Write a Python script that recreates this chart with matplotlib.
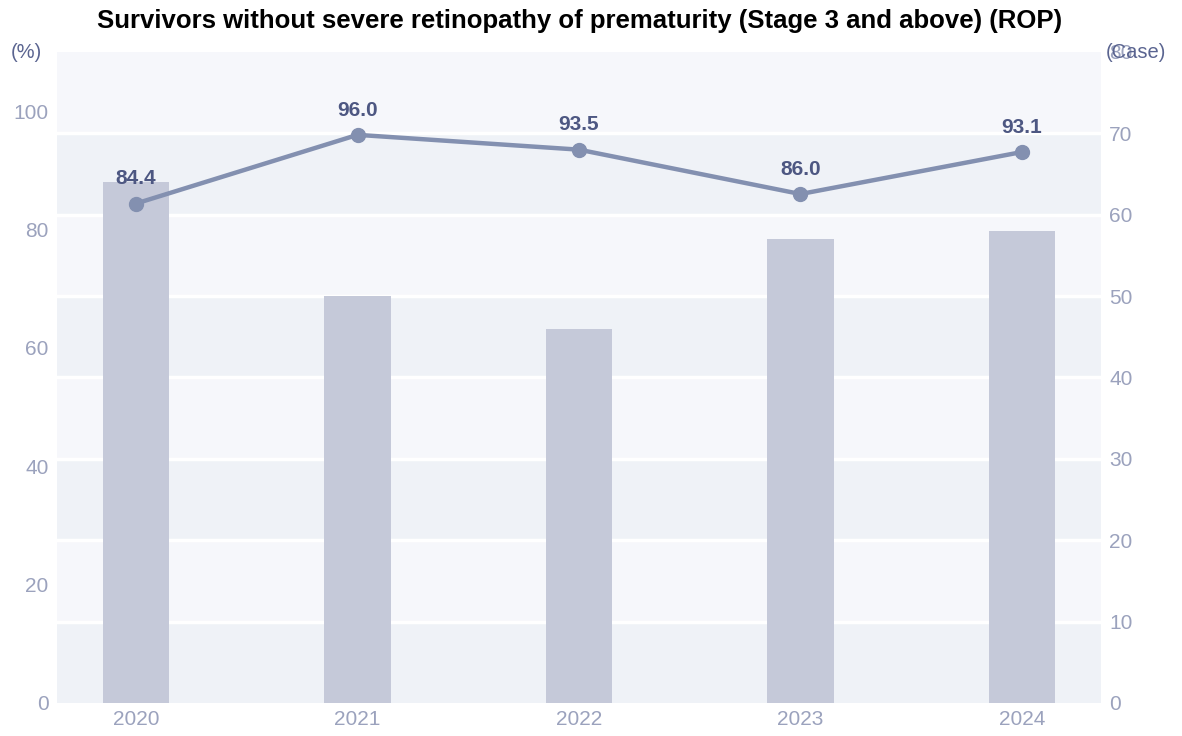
import matplotlib
matplotlib.use("Agg")
import matplotlib.pyplot as plt
import numpy as np

years = ["2020", "2021", "2022", "2023", "2024"]
cases = [64, 50, 46, 57, 58]
rates = [84.4, 96.0, 93.5, 86.0, 93.1]
left_ticks = [0, 20, 40, 60, 80, 100]
right_ticks = [0, 10, 20, 30, 40, 50, 60, 70, 80]

plt.rcParams['font.family'] = ['Liberation Sans', 'DejaVu Sans']

fig = plt.figure(figsize=(11.82, 7.36), dpi=100)
ax2 = fig.add_axes([57/1182, 1-703/736, (1101-57)/1182, (703-52)/736])
ax = ax2.twinx()

x = np.arange(len(years))
tick_col = "#9ba2bd"
line_col = "#8390b0"
lab_col = "#4d5782"

# bands on right axis
band_light = "#f6f7fb"
band_dark = "#eff2f7"
for i in range(len(right_ticks) - 1):
    col = band_dark if i % 2 == 0 else band_light
    ax2.axhspan(right_ticks[i], right_ticks[i+1], color=col, lw=0, zorder=0)
for t in right_ticks[1:-1]:
    ax2.axhline(t, color="white", lw=2.5, zorder=1)

ax2.bar(x, cases, width=0.30, color="#c5c9d9", zorder=2)
ax2.set_ylim(0, 80)
ax2.set_xlim(-0.357, 4.357)
ax2.yaxis.tick_right()
ax2.set_yticks(right_ticks)
ax2.set_yticklabels([str(t) for t in right_ticks])

ax.yaxis.tick_left()
ax.plot(x, rates, color=line_col, lw=3.2, marker='o', ms=10, zorder=5)
ax.set_ylim(0, 110)
ax.set_yticks(left_ticks)
for xi, r in zip(x, rates):
    ax.annotate(f"{r:.1f}", (xi, r), xytext=(0, 11), textcoords="offset points",
                ha="center", va="bottom", fontsize=15, fontweight="bold", color=lab_col, zorder=6)

for a in (ax, ax2):
    for s in a.spines.values():
        s.set_visible(False)
    a.tick_params(length=0, labelsize=15, colors=tick_col)
ax.tick_params(axis='y', pad=6)
ax2.tick_params(axis='y', pad=6)
ax2.set_xticks(x)
ax2.set_xticklabels(years)
ax2.tick_params(axis='x', pad=5)

fig.text(11/1182, 1-53/736, "(%)", fontsize=14.5, color="#5a6490", ha="left", va="center")
fig.text(1106/1182, 1-53/736, "(Case)", fontsize=14.5, color="#5a6490", ha="left", va="center")

fig.text(580/1182, 1-21/736, "Survivors without severe retinopathy of prematurity (Stage 3 and above) (ROP)",
         fontsize=18.5, fontweight="bold", color="black", ha="center", va="center")

fig.savefig("out.png", dpi=100)
